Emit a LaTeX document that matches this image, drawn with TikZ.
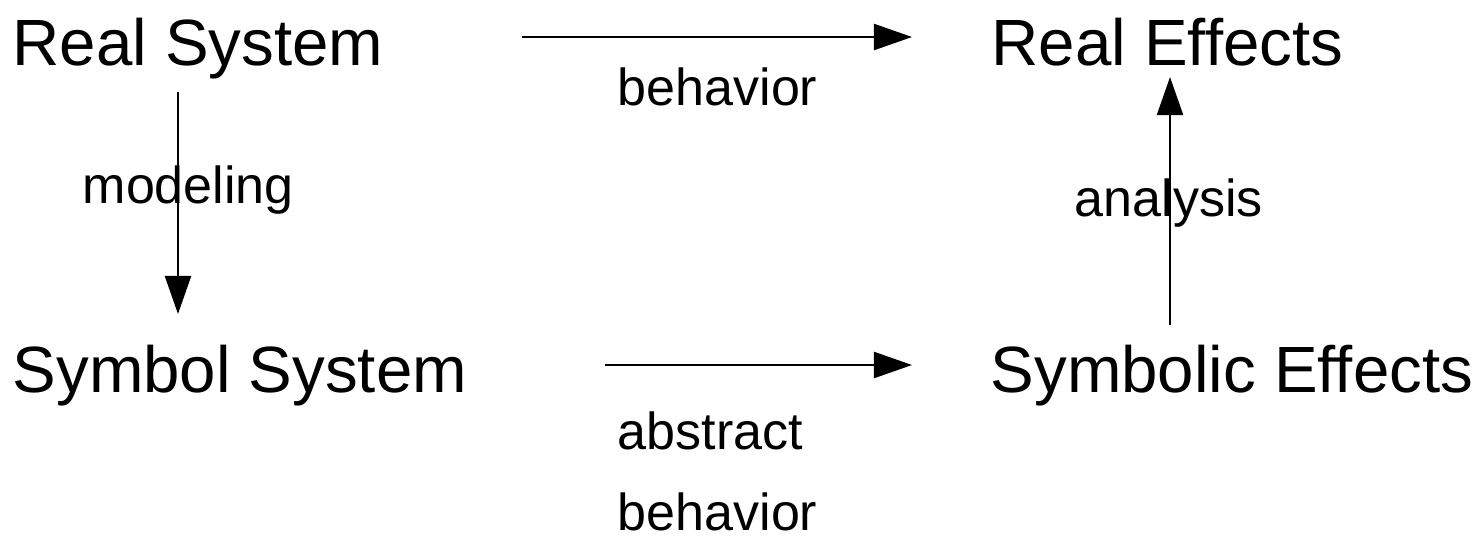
\documentclass[tikz,border=0pt]{standalone}
\usepackage{fontspec}
\setmainfont{Liberation Sans}
\usetikzlibrary{arrows.meta}

\begin{document}
\begin{tikzpicture}[x=0.01cm, y=-0.01cm,
  big/.style={anchor=base west, inner sep=0pt, font=\fontsize{18.6}{22}\selectfont},
  small/.style={anchor=base west, inner sep=0pt, font=\fontsize{14.8}{18}\selectfont},
  flow/.style={line width=0.62pt, -{Triangle[length=3.8mm, width=2.6mm]}}]
  \useasboundingbox (0,0) rectangle (1477,545);

  % the four states
  \node[big] (rsys) at (12,65)   {Real System};
  \node[big] (reff) at (991,65)  {Real Effects};
  \node[big] (ssys) at (12,392)  {Symbol System};
  \node[big] (seff) at (990,392) {Symbolic Effects};

  % labels of the transitions
  \node[small] (lbeh)  at (617,105)  {behavior};
  \node[small] (lmod)  at (82,203)   {modeling};
  \node[small] (lana)  at (1074,216) {analysis};
  \node[small] (labs1) at (617,449)  {abstract};
  \node[small] (labs2) at (617,530)  {behavior};

  % arrow end points
  \coordinate (beh-a) at (522,37);
  \coordinate (beh-b) at (912,37);
  \coordinate (abs-a) at (605,365);
  \coordinate (abs-b) at (912,365);
  \coordinate (mod-a) at (178,92);
  \coordinate (mod-b) at (178,314);
  \coordinate (ana-a) at (1170,325);
  \coordinate (ana-b) at (1170,77);

  \draw[flow] (beh-a) -- (beh-b);
  \draw[flow] (abs-a) -- (abs-b);
  \draw[flow] (mod-a) -- (mod-b);
  \draw[flow] (ana-a) -- (ana-b);
\end{tikzpicture}
\end{document}
